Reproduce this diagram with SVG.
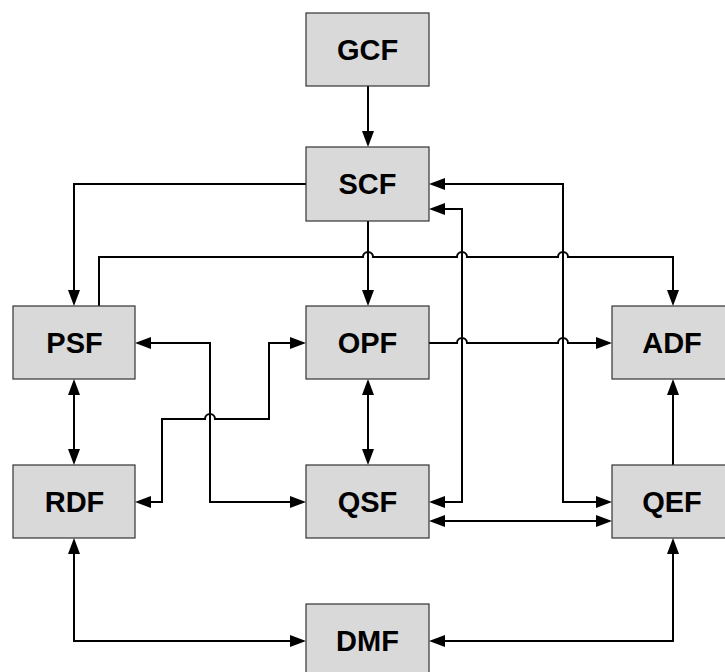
<svg xmlns="http://www.w3.org/2000/svg" width="725" height="672" viewBox="0 0 725 672">
  <style>
    .box rect { fill: #d9d9d9; stroke: #333333; stroke-width: 1.2; }
    .box text { font-family: "Liberation Sans", Arial, sans-serif; font-weight: bold; font-size: 29px; text-anchor: middle; fill: #000000; }
    .wire { fill: none; stroke: #000000; stroke-width: 2; }
    .one { marker-end: url(#head); }
    .two { marker-start: url(#head); marker-end: url(#head); }
  </style>
  <defs>
    <marker id="head" markerUnits="userSpaceOnUse" markerWidth="16" markerHeight="12" refX="13" refY="6" orient="auto-start-reverse">
      <path d="M0,0 L16,6 L0,12 z" fill="#000000"/>
    </marker>
  </defs>
  <rect width="725" height="672" fill="#ffffff"/>

  <g id="connectors">
    <!-- GCF -> SCF -->
    <path class="wire one" d="M368,86 V144"/>
    <!-- SCF -> PSF -->
    <path class="wire one" d="M306,184 H74 V303"/>
    <!-- PSF -> ADF, hopping over three verticals -->
    <path class="wire one" d="M99,306 V257 H363 a5,5 0 0 1 10,0 H457 a5,5 0 0 1 10,0 H558 a5,5 0 0 1 10,0 H673 V303"/>
    <!-- SCF -> OPF -->
    <path class="wire one" d="M368,221 V303"/>
    <!-- OPF -> ADF -->
    <path class="wire one" d="M429,343 H457 a5,5 0 0 1 10,0 H558 a5,5 0 0 1 10,0 H609"/>
    <!-- SCF <-> QSF -->
    <path class="wire two" d="M432,209 H462 V502 H432"/>
    <!-- SCF <-> QEF -->
    <path class="wire two" d="M432,184 H563 V502 H609"/>
    <!-- PSF <-> QSF -->
    <path class="wire two" d="M138,343 H210 V502 H303"/>
    <!-- RDF <-> OPF -->
    <path class="wire two" d="M138,502 H162 V419 H205 a5,5 0 0 1 10,0 H269 V343 H303"/>
    <!-- PSF <-> RDF -->
    <path class="wire two" d="M74,382 V462"/>
    <!-- OPF <-> QSF -->
    <path class="wire two" d="M368,382 V462"/>
    <!-- QSF <-> QEF -->
    <path class="wire two" d="M432,521 H609"/>
    <!-- QEF -> ADF -->
    <path class="wire one" d="M673,465 V382"/>
    <!-- RDF <-> DMF -->
    <path class="wire two" d="M74,541 V641 H303"/>
    <!-- QEF <-> DMF -->
    <path class="wire two" d="M673,541 V641 H432"/>
  </g>

  <g id="GCF" class="box">
    <rect x="306" y="13" width="123" height="73"/>
    <text x="367.5" y="60">GCF</text>
  </g>
  <g id="SCF" class="box">
    <rect x="306" y="147" width="123" height="74"/>
    <text x="367.5" y="194">SCF</text>
  </g>
  <g id="PSF" class="box">
    <rect x="13" y="306" width="122" height="73"/>
    <text x="74.5" y="353">PSF</text>
  </g>
  <g id="OPF" class="box">
    <rect x="306" y="306" width="123" height="73"/>
    <text x="367.5" y="353">OPF</text>
  </g>
  <g id="ADF" class="box">
    <rect x="612" y="306" width="122" height="73"/>
    <text x="672" y="353">ADF</text>
  </g>
  <g id="RDF" class="box">
    <rect x="13" y="465" width="122" height="73"/>
    <text x="74.5" y="512">RDF</text>
  </g>
  <g id="QSF" class="box">
    <rect x="306" y="465" width="123" height="73"/>
    <text x="367.5" y="512">QSF</text>
  </g>
  <g id="QEF" class="box">
    <rect x="612" y="465" width="122" height="73"/>
    <text x="672" y="512">QEF</text>
  </g>
  <g id="DMF" class="box">
    <rect x="306" y="604" width="123" height="73"/>
    <text x="367.5" y="651">DMF</text>
  </g>
</svg>
